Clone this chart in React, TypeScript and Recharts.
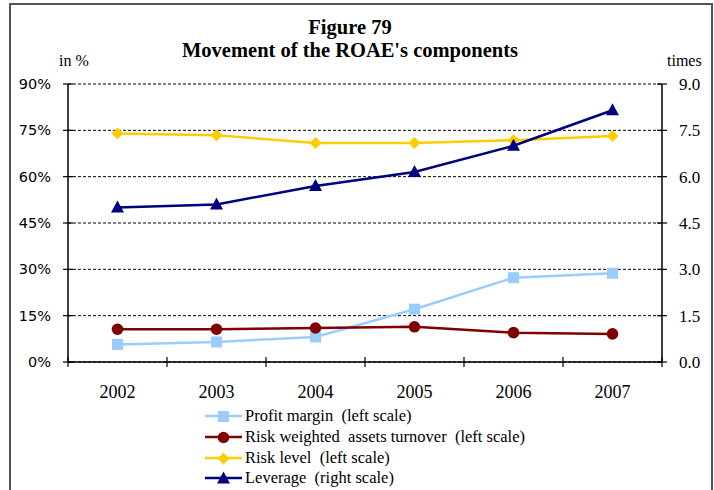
import { LineChart, Line, XAxis, YAxis, CartesianGrid } from 'recharts';

const years = ['2002', '2003', '2004', '2005', '2006', '2007'];
const profitMargin = [5.7, 6.5, 8.1, 17.1, 27.3, 28.7];
const rwaTurnover = [10.6, 10.6, 11.0, 11.4, 9.5, 9.1];
const riskLevel = [74.0, 73.4, 70.9, 70.9, 71.8, 73.2];
const leverage = [5.0, 5.1, 5.7, 6.15, 7.0, 8.15];
const leftTicks = [0, 15, 30, 45, 60, 75, 90];
const rightTicks = [0, 1.5, 3, 4.5, 6, 7.5, 9];

const series = [
  { key: 'profit', name: 'Profit margin  (left scale)', color: '#99CCFF', shape: 'square', axis: 'left', values: profitMargin },
  { key: 'rwa', name: 'Risk weighted  assets turnover  (left scale)', color: '#800000', shape: 'circle', axis: 'left', values: rwaTurnover },
  { key: 'risk', name: 'Risk level  (left scale)', color: '#FFCC00', shape: 'diamond', axis: 'left', values: riskLevel },
  { key: 'lev', name: 'Leverage  (right scale)', color: '#000080', shape: 'triangle', axis: 'right', values: leverage },
];

const data = years.map((year, i) => {
  const row: Record<string, any> = { year };
  series.forEach((s) => (row[s.key] = s.values[i]));
  return row;
});

const W = 714;
const H = 490;
const PLOT_LEFT = 68;
const PLOT_RIGHT = 662;
const HALF_BAND = (PLOT_RIGHT - PLOT_LEFT) / years.length / 2;
const SERIF = '"Liberation Serif", "Times New Roman", serif';

const Marker = ({ shape, cx, cy, color }: any) => {
  if (cx == null || cy == null) return null;
  switch (shape) {
    case 'square':
      return <rect x={cx - 5.5} y={cy - 5.5} width={11} height={11} fill={color} />;
    case 'circle':
      return <circle cx={cx} cy={cy} r={5.8} fill={color} />;
    case 'diamond':
      return <polygon points={`${cx},${cy - 6} ${cx + 6},${cy} ${cx},${cy + 6} ${cx - 6},${cy}`} fill={color} />;
    default:
      return <polygon points={`${cx},${cy - 7} ${cx + 6.5},${cy + 5} ${cx - 6.5},${cy + 5}`} fill={color} />;
  }
};

const LeftTick = ({ x, y, payload }: any) => (
  <g>
    <line x1={x - 5} x2={x + 5} y1={y} y2={y} stroke="#000" strokeWidth={1.2} />
    <text x={x - 17} y={y + 5} textAnchor="end" fontFamily='"DejaVu Sans", sans-serif' fontSize={14.5} fill="#000">
      {payload.value}%
    </text>
  </g>
);

const RightTick = ({ x, y, payload }: any) => (
  <g>
    <line x1={x - 5} x2={x + 5} y1={y} y2={y} stroke="#000" strokeWidth={1.2} />
    <text x={x + 17} y={y + 6} textAnchor="start" fontFamily={SERIF} fontSize={17} fill="#000">
      {Number(payload.value).toFixed(1)}
    </text>
  </g>
);

const BottomTick = ({ x, y, payload, index }: any) => (
  <g>
    <line x1={x - HALF_BAND} x2={x - HALF_BAND} y1={y - 5} y2={y + 5} stroke="#000" strokeWidth={1.2} />
    {index === years.length - 1 && (
      <line x1={x + HALF_BAND} x2={x + HALF_BAND} y1={y - 5} y2={y + 5} stroke="#000" strokeWidth={1.2} />
    )}
    <text x={x} y={y + 36} textAnchor="middle" fontFamily={SERIF} fontSize={18} fill="#000">
      {payload.value}
    </text>
  </g>
);

const LegendIcon = ({ color, shape }: any) => (
  <svg width={37} height={14} style={{ display: 'block' }}>
    <line x1={0} x2={37} y1={7} y2={7} stroke={color} strokeWidth={2.5} />
    <Marker shape={shape} cx={18.5} cy={7.5} color={color} />
  </svg>
);

export default function App() {
  return (
    <div style={{ position: 'absolute', left: 0, top: 0, width: W, height: H, background: '#fff', overflow: 'hidden' }}>
      <div
        style={{
          position: 'absolute',
          left: 9,
          top: 3,
          width: 700,
          height: H,
          borderLeft: '2px solid #555',
          borderRight: '2px solid #555',
          borderTop: '2px solid #555',
        }}
      />
      <div
        style={{
          position: 'absolute',
          left: 0,
          width: 700,
          top: 16,
          textAlign: 'center',
          fontFamily: SERIF,
          fontWeight: 'bold',
          fontSize: 20.5,
          lineHeight: '23px',
        }}
      >
        Figure 79
        <br />
        Movement of the ROAE's components
      </div>
      <div style={{ position: 'absolute', left: 59, top: 52, fontFamily: SERIF, fontSize: 16 }}>in %</div>
      <div style={{ position: 'absolute', left: 667, top: 52, fontFamily: SERIF, fontSize: 16 }}>times</div>
      <LineChart width={W} height={H} data={data} margin={{ top: 84, right: 0, left: 0, bottom: 98 }}>
        <CartesianGrid vertical={false} horizontal stroke="#000" strokeDasharray="3 2" yAxisId="left" />
        <XAxis
          dataKey="year"
          scale="band"
          stroke="#000"
          strokeWidth={1.5}
          tickLine={false}
          tickSize={0}
          tickMargin={0}
          height={30}
          tick={(p: any) => <BottomTick {...p} />}
          interval={0}
        />
        <YAxis
          yAxisId="left"
          domain={[0, 90]}
          ticks={leftTicks}
          width={68}
          stroke="#000"
          strokeWidth={1.5}
          tickLine={false}
          tickSize={0}
          tickMargin={0}
          tick={(p: any) => <LeftTick {...p} />}
          interval={0}
        />
        <YAxis
          yAxisId="right"
          orientation="right"
          domain={[0, 9]}
          ticks={rightTicks}
          width={52}
          stroke="#000"
          strokeWidth={1.5}
          tickLine={false}
          tickSize={0}
          tickMargin={0}
          tick={(p: any) => <RightTick {...p} />}
          interval={0}
        />
        {series.map((s) => (
          <Line
            key={s.key}
            yAxisId={s.axis}
            dataKey={s.key}
            name={s.name}
            stroke={s.color}
            strokeWidth={2.5}
            isAnimationActive={false}
            dot={(p: any) => <Marker key={`${s.key}-${p.index}`} shape={s.shape} cx={p.cx} cy={p.cy} color={s.color} />}
            activeDot={false}
          />
        ))}
      </LineChart>
      <div style={{ position: 'absolute', left: 205, top: 406 }}>
        {series.map((s) => (
          <div key={s.key} style={{ display: 'flex', alignItems: 'center', height: 20.7 }}>
            <LegendIcon color={s.color} shape={s.shape} />
            <span style={{ marginLeft: 3, fontFamily: SERIF, fontSize: 16.5, whiteSpace: 'pre' }}>{s.name}</span>
          </div>
        ))}
      </div>
    </div>
  );
}
